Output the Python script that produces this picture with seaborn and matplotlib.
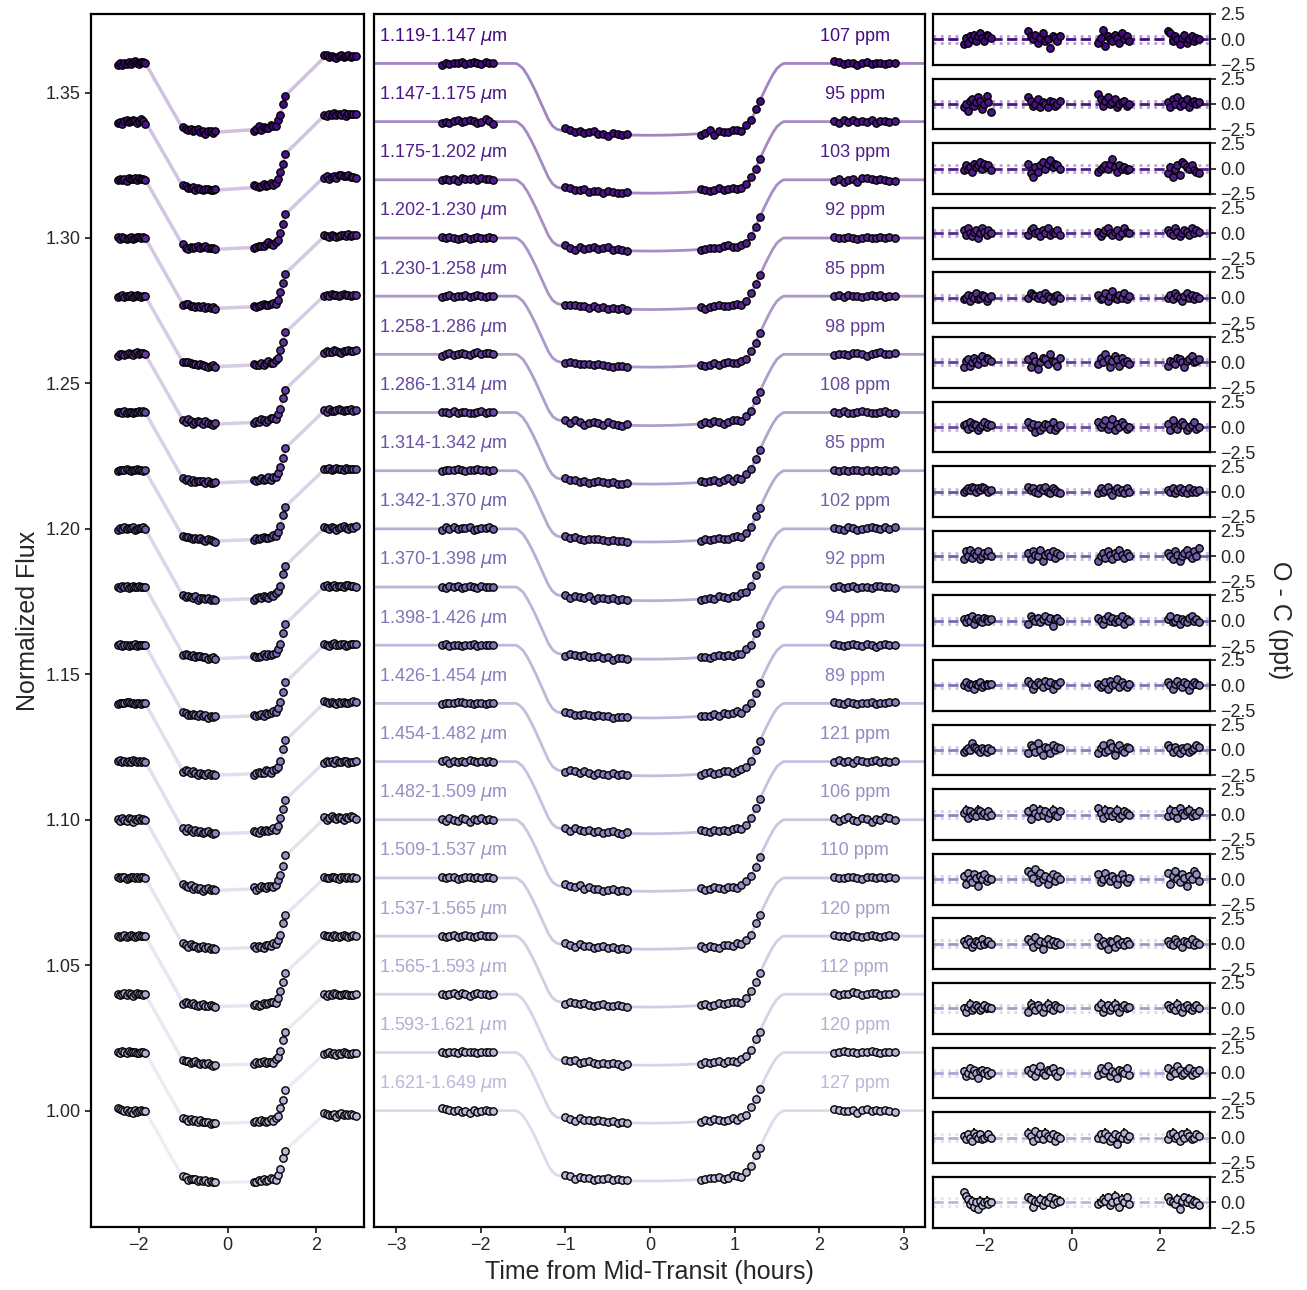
import numpy as np
import pandas as pd
import matplotlib
matplotlib.use("Agg")
import matplotlib.pyplot as plt
import seaborn as sns

# ============================================================
# data
# ============================================================
WAVE_LABELS = ["1.119-1.147", "1.147-1.175", "1.175-1.202", "1.202-1.230", "1.230-1.258",
               "1.258-1.286", "1.286-1.314", "1.314-1.342", "1.342-1.370", "1.370-1.398",
               "1.398-1.426", "1.426-1.454", "1.454-1.482", "1.482-1.509", "1.509-1.537",
               "1.537-1.565", "1.565-1.593", "1.593-1.621", "1.621-1.649"]
RMS_PPM = [107, 95, 103, 92, 85, 98, 108, 85, 102, 92, 94, 89, 121, 106, 110, 120, 112, 120, 127]

# transit depth per channel (fraction of flux)
DEPTH = [0.0247, 0.0246, 0.0245, 0.0246, 0.0244, 0.0245, 0.0246, 0.0245, 0.0247, 0.0248,
         0.0250, 0.0249, 0.0248, 0.0246, 0.0245, 0.0244, 0.0244, 0.0243, 0.0242]
# visit-long slope of the raw light curves (ppt per hour)
SLOPE_PPT = [0.50, 0.50, 0.25, 0.15, 0.05, 0.20, 0.15, 0.10, 0.05, 0.05,
             0.05, 0.05, -0.05, 0.10, 0.00, 0.00, -0.05, -0.10, -0.30]

# exposure mid-times (hours from mid-transit), four HST orbits
TIME = [-2.46, -2.41, -2.37, -2.32, -2.27, -2.22, -2.18, -2.13, -2.08, -2.04, -1.99, -1.94, -1.90, -1.85,
        -1.00, -0.94, -0.89, -0.83, -0.78, -0.72, -0.66, -0.61, -0.55, -0.50, -0.44, -0.38, -0.33, -0.27,
        0.60, 0.65, 0.71, 0.76, 0.82, 0.87, 0.92, 0.98, 1.03, 1.08, 1.14, 1.19, 1.25, 1.30,
        2.18, 2.23, 2.29, 2.34, 2.40, 2.45, 2.51, 2.56, 2.62, 2.67, 2.72, 2.78, 2.83, 2.89]
# fraction of the full depth blocked at each exposure
DIP = [0] * 14 + \
      [0.937, 0.944, 0.950, 0.956, 0.961, 0.965, 0.970, 0.974, 0.978, 0.982, 0.985, 0.989, 0.992, 0.995] + \
      [0.977, 0.973, 0.969, 0.965, 0.960, 0.955, 0.950, 0.943, 0.935, 0.925, 0.880, 0.790, 0.650, 0.520] + \
      [0] * 14

# model curve nodes for the detrended panel
MODEL_T = [-3.30, -1.58, -1.55, -1.50, -1.45, -1.40, -1.35, -1.30, -1.25, -1.20, -1.15, -1.10, -1.05,
           -1.00, -0.90, -0.80, -0.70, -0.60, -0.50, -0.40, -0.30, -0.20, -0.10, 0.00,
           0.10, 0.20, 0.30, 0.40, 0.50, 0.60, 0.70, 0.80, 0.90, 1.00,
           1.05, 1.10, 1.15, 1.20, 1.25, 1.30, 1.35, 1.40, 1.45, 1.50, 1.55, 1.58, 3.30]
MODEL_DIP = [0, 0, 0.02, 0.07, 0.16, 0.27, 0.39, 0.52, 0.65, 0.78, 0.87, 0.915, 0.93,
             0.937, 0.949, 0.960, 0.969, 0.977, 0.984, 0.990, 0.994, 0.997, 0.999, 1.0,
             0.999, 0.997, 0.994, 0.990, 0.984, 0.977, 0.969, 0.960, 0.949, 0.937,
             0.93, 0.915, 0.87, 0.78, 0.65, 0.52, 0.39, 0.27, 0.16, 0.07, 0.02, 0, 0]

# O - C residuals in units of RESID_UNIT ppt, one row per channel
RESID_UNIT = 0.16
RESID = [
    [-3, 1, -2, 2, 0, 3, -1, 2, 4, 1, -1, 3, 2, 1, 5, 2, 0, 3, -2, 1, 4, -1, 0, -5, 2, 1, -1, 2,
     -2, 1, 6, -4, 2, 0, -1, 3, 1, -2, 4, 0, 2, -1, 5, 4, -1, 2, 0, -3, 1, 3, -2, 0, 2, -1, 1, 0],
    [-2, 0, -4, 2, 3, -1, 1, 4, 2, -3, 0, 5, 1, -5, 4, 2, -1, 0, 3, -2, 1, 0, -2, 2, 1, -1, 0, 2,
     6, 3, -1, 2, 4, 0, 1, 3, -2, 0, 1, 2, -1, 0, 1, -2, 3, 0, 4, -1, 2, 0, 3, -2, 1, 2, 0, 1],
    [-1, 2, 0, 1, -2, 3, 1, 2, 4, 0, 3, 1, 2, -1, 3, -3, -5, 1, -2, 2, 4, 0, 3, 5, 1, 3, 2, 0,
     -2, 0, 1, 2, 0, 3, 6, 1, -2, 2, 0, 1, -1, 0, -3, 1, -5, 0, 2, -4, 4, 3, 1, 0, 2, -1, -2, -3],
    [2, -1, 3, 0, -2, 1, 2, -3, 0, 3, 1, -1, 2, 0, -1, 2, 3, 0, 1, -2, 2, 0, 3, -1, 1, 0, 2, -1,
     1, -2, 0, 2, 3, 0, -1, 1, 2, -2, 0, 3, 1, 0, 2, 0, -1, 3, 1, -2, 0, 2, 1, -1, 3, 0, 2, 1],
    [-1, 0, 2, -2, 1, 0, 3, -1, 0, 2, 1, -2, 0, 1, 0, 3, 2, 1, 0, 2, -1, 3, 1, 0, -2, 1, 2, 0,
     2, -1, 0, 3, -2, 1, 4, 0, -1, 2, 0, 3, -1, 1, 0, 2, -1, 3, 1, 0, -2, 1, 3, 0, 2, -1, 1, 0],
    [-3, 1, 2, -2, 0, 3, 1, -1, 2, 4, 0, 3, 2, 1, 2, -3, 4, 1, -4, 0, 3, 2, -1, 5, 1, 0, -2, 3,
     -1, 3, 0, 5, 2, -3, 1, 4, 2, -2, 3, 0, 1, -1, -2, 1, 0, -1, 3, 2, 0, -3, 1, 2, 4, 0, 1, 2],
    [1, 2, -1, 3, 0, 2, 1, -2, 0, 1, 3, 0, 2, 1, 3, 0, 2, -3, 1, -2, 0, 2, 1, -1, 3, -2, 0, 1,
     3, 0, 2, 4, -1, 1, 5, -2, 2, 0, 3, 1, -1, 0, 2, -2, 4, 0, -1, 2, 3, 1, -2, 0, 1, 3, -1, 0],
    [0, 1, 2, 1, 3, 2, 0, 2, 1, 3, 2, 1, 0, 1, 3, 1, 2, 0, -1, 2, 1, 3, 0, -1, 2, 1, 0, -1,
     -1, 2, 0, 1, 3, 0, -2, 1, 2, 0, 1, -1, 2, 0, 1, 0, 2, -1, 1, 2, 0, 1, -1, 2, 0, 1, 0, 1],
    [-2, 3, 0, 4, -1, 2, 1, 3, -2, 0, 2, 1, 3, 0, 2, -2, 3, 1, 0, 4, -3, 1, 2, 0, 3, -1, 2, 1,
     -3, 0, 2, -1, 3, 1, -2, 2, 0, 4, 1, -1, 2, 0, 2, 0, -2, 3, 1, -3, 0, 2, 4, 1, -1, 3, 0, 5],
    [1, -1, 2, 0, 3, -2, 1, 2, 0, -1, 2, 1, 0, 1, -2, 3, 1, 0, 2, -1, 1, 3, 0, 2, -3, 1, 2, 0,
     2, 0, -2, 1, 3, 0, 2, -1, 1, 0, 3, -2, 1, 0, 1, 3, -1, 0, 2, -2, 1, 0, -1, 2, 3, 0, 1, -1],
    [0, 2, -1, 1, 0, -2, 1, 0, 2, -1, 0, 1, 0, 1, 3, 1, -2, 0, 2, 1, -1, 3, 0, 2, -2, 1, 0, 2,
     1, -1, 0, 2, -2, 3, 0, 1, 4, -1, 2, 0, -1, 1, 2, 0, -2, 1, 3, 0, -1, 2, 1, -3, 0, 2, 1, 0],
    [-1, 0, 1, 0, 4, 2, 1, 0, -1, 1, 0, -1, 1, 0, -2, 3, 2, -1, 4, 0, -3, 2, 1, -2, 3, 0, 2, 1,
     -2, 1, 3, -1, 0, 4, 2, -3, 1, 3, 0, -1, 2, 1, 3, 1, -1, 2, 0, -2, 1, 0, 2, -1, 0, 1, 3, 2],
    [1, 3, -2, 2, 0, 1, -1, 3, 2, 0, 1, -1, 2, 0, 2, -3, 4, 1, -1, 3, 0, 2, -2, 1, 3, 0, -1, 2,
     4, 1, -2, 3, 0, 2, -1, 1, 3, -2, 0, 2, 1, 0, -1, 3, 0, 2, -2, 4, 1, 0, 2, 3, -1, 1, 0, 2],
    [2, -3, 4, 0, -2, 3, 1, -4, 2, 0, 3, -1, 1, 0, 5, 3, 1, 6, -2, 4, 0, 2, -3, 1, 3, -1, 2, 0,
     3, -2, 0, 4, 1, -1, 2, 0, -3, 1, 3, 0, -2, 1, 4, -3, 2, 5, 0, -2, 3, 1, -4, 2, 0, 5, 3, -1],
    [2, 0, 3, 1, -2, 0, 2, 1, -1, 3, 0, 1, 2, 0, 3, 1, -2, 4, 0, 2, -3, 1, 3, 0, 2, -1, 1, 0,
     4, -1, 2, 0, -3, 2, 1, -2, 3, 0, 1, -1, 2, 0, 2, 0, -1, 3, 1, 0, -2, 2, 1, 0, 3, -1, 1, 0],
    [0, -2, 1, 3, -1, 0, 2, 1, -1, 0, 2, 0, 1, 0, -2, 3, 1, -1, 2, 0, -2, 1, 3, 0, -1, 2, 1, 0,
     1, 3, -2, 0, 2, -1, 1, 3, 0, -2, 1, 2, 0, 1, 2, 0, 1, -1, 3, 0, -2, 1, 2, 0, -1, 1, 2, 0],
    [1, -2, 0, 3, -1, 2, 0, -3, 1, 2, 0, 1, -1, 0, 2, 0, 3, -2, 1, 4, 0, -1, 2, 1, 3, 0, -2, 1,
     -1, 3, 0, 2, 4, -2, 1, 0, -3, 2, 1, 0, 3, -1, 3, -2, 1, 0, 4, 2, -1, 0, 2, 3, -1, 1, 0, 2],
    [1, -1, 2, 0, -2, 3, 1, 0, 2, -1, 0, 1, 2, 0, 3, 1, -2, 4, 0, 2, -1, 3, 1, 0, 2, -2, 1, 0,
     0, 2, -1, 3, 1, -2, 0, 2, -4, 1, 0, 3, -1, 1, -1, 2, 3, 0, 1, -2, 2, 0, 3, 1, -1, 0, 2, 1],
    [6, 4, 2, -1, 1, -3, 0, -4, 1, -2, 0, 1, -1, 0, 3, 2, -3, 1, 0, 2, -2, 1, 0, 3, -1, 2, 0, 1,
     -1, 0, 2, 1, 3, -2, 0, 4, 1, -3, 2, 0, 3, -1, 3, 1, 0, -1, 2, -4, 1, 3, 0, 2, -1, 1, 0, -2],
]

# ============================================================
# style
# ============================================================
sns.set_style("ticks")
plt.rcParams['font.family'] = ['Liberation Sans', 'DejaVu Sans']
plt.rcParams['axes.edgecolor'] = 'black'
plt.rcParams['axes.linewidth'] = 1.6
plt.rcParams['xtick.major.width'] = 1.3
plt.rcParams['ytick.major.width'] = 1.3
plt.rcParams['xtick.major.size'] = 4
plt.rcParams['ytick.major.size'] = 4

n_ch = len(WAVE_LABELS)
colors = sns.color_palette("Purples_r", 30)[:n_ch]
t = np.array(TIME)
dip = np.array(DIP)
mt = np.array(MODEL_T)
mdip = np.array(MODEL_DIP)
T_REF = -2.15
MS = 28     # marker area
MEW = 1.0   # marker edge width

W, H = 1307, 1290
fig = plt.figure(figsize=(W / 100, H / 100), dpi=100)


def box(x0, y0, x1, y1):
    return [x0 / W, (H - y1) / H, (x1 - x0) / W, (y1 - y0) / H]


ax_raw = fig.add_axes(box(91, 14, 364, 1227))
ax_det = fig.add_axes(box(374, 14, 925, 1227))
res_axes = []
for i in range(n_ch):
    top = 14 + i * 64.6
    res_axes.append(fig.add_axes(box(933, top, 1210, top + 50.8)))

for i in range(n_ch):
    c = colors[i]
    base = 1.36 - 0.02 * i
    resid = np.array(RESID[i]) * RESID_UNIT          # ppt
    det_model = base - DEPTH[i] * dip
    det_flux = det_model + resid / 1000.0
    trend = SLOPE_PPT[i] / 1000.0 * (t - T_REF)
    raw_model = det_model + trend
    raw_flux = det_flux + trend

    # raw light curves
    sns.lineplot(x=t, y=raw_model, color=c, alpha=0.25, lw=2.5, ax=ax_raw, zorder=1)
    sns.scatterplot(x=t, y=raw_flux, color=c, edgecolor='black', linewidth=MEW,
                    s=MS, ax=ax_raw, zorder=3)

    # detrended light curves with model
    sns.lineplot(x=mt, y=base - DEPTH[i] * mdip, color=c, alpha=0.5, lw=2, ax=ax_det, zorder=1)
    sns.scatterplot(x=t, y=det_flux, color=c, edgecolor='black', linewidth=MEW,
                    s=MS, ax=ax_det, zorder=3)
    ax_det.text(-3.2, base + 0.0093, WAVE_LABELS[i] + r' $\mu$m', color=c,
                fontsize=13, ha='left', va='center')
    ax_det.text(2.42, base + 0.0093, f"{RMS_PPM[i]} ppm", color=c,
                fontsize=13, ha='center', va='center')

    # residuals
    ax = res_axes[i]
    band = 3 * RMS_PPM[i] / 1000.0
    ax.axhline(0, color=c, ls='--', lw=2, zorder=1)
    ax.axhline(band, color=c, ls=':', lw=2, alpha=0.4, zorder=1)
    ax.axhline(-band, color=c, ls=':', lw=2, alpha=0.4, zorder=1)
    ax.errorbar(t, resid, yerr=3.5 * RMS_PPM[i] / 1000.0, fmt='none', ecolor='black',
                elinewidth=1.3, zorder=2)
    sns.scatterplot(x=t, y=resid, color=c, edgecolor='black', linewidth=MEW,
                    s=MS, ax=ax, zorder=3)
    ax.set_xlim(-3.16, 3.14)
    ax.set_ylim(-2.5, 2.5)
    ax.yaxis.tick_right()
    ax.set_yticks([-2.5, 0.0, 2.5])
    ax.yaxis.set_major_formatter('{x:.1f}')
    ax.tick_params(axis='y', labelsize=13)
    if i < n_ch - 1:
        ax.set_xticks([])
    else:
        ax.set_xticks([-2, 0, 2])
        ax.tick_params(axis='x', labelsize=13)

ax_raw.set_xlim(-3.07, 3.07)
ax_raw.set_ylim(0.960, 1.377)
ax_raw.set_xticks([-2, 0, 2])
ax_raw.set_yticks([1.00, 1.05, 1.10, 1.15, 1.20, 1.25, 1.30, 1.35])
ax_raw.yaxis.set_major_formatter('{x:.2f}')
ax_raw.tick_params(labelsize=13)
ax_raw.set_ylabel("Normalized Flux", fontsize=18)

ax_det.set_xlim(-3.26, 3.25)
ax_det.set_ylim(0.960, 1.377)
ax_det.set_xticks([-3, -2, -1, 0, 1, 2, 3])
ax_det.set_yticks([])
ax_det.tick_params(labelsize=13)
ax_det.set_xlabel("Time from Mid-Transit (hours)", fontsize=18)

fig.text(1280 / W, 1 - 620 / H, "O - C (ppt)", rotation=270, fontsize=18,
         ha='center', va='center', color='#262626')

fig.savefig("out.png", dpi=100)
